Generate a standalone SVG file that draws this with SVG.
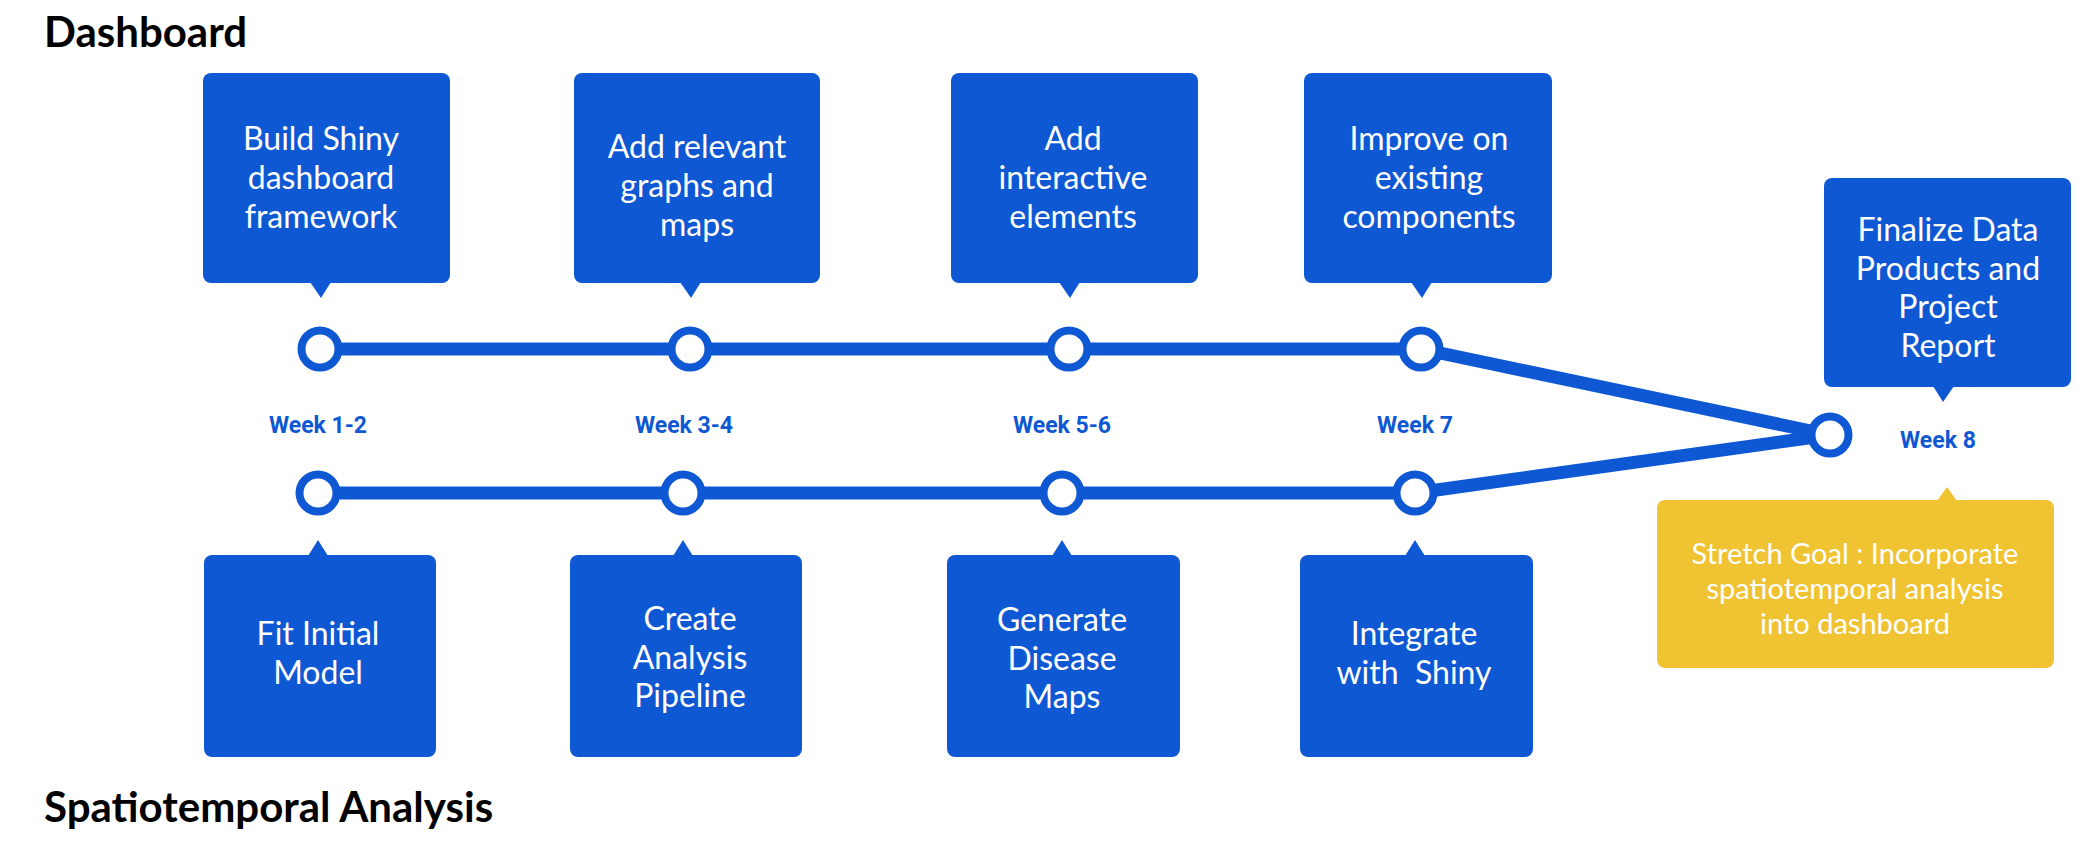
<svg xmlns="http://www.w3.org/2000/svg" width="2093" height="854" viewBox="0 0 2093 854">
<style>
.title{font-family:Lato,"Liberation Sans",sans-serif;font-weight:bold;font-size:42px;fill:#000}
.box{fill:#0f58d3}
.ybox{fill:#f0c332}
.bt{font-family:Lato,"Liberation Sans",sans-serif;font-size:32px;fill:#fff;text-anchor:middle}
.yt{font-family:Lato,"Liberation Sans",sans-serif;font-size:29px;fill:#fff;text-anchor:middle}
.wk{font-family:Roboto,"Liberation Sans",sans-serif;font-weight:bold;font-size:23px;fill:#0f58d3;text-anchor:middle}
.ln{stroke:#0f58d3;stroke-width:13;fill:none;stroke-linecap:round;stroke-linejoin:round}
.dot{fill:#fff;stroke:#0f58d3;stroke-width:8}
</style>
<rect width="2093" height="854" fill="#fff"/>
<text class="title" x="44" y="47">Dashboard</text>
<text class="title" x="44" y="822">Spatiotemporal Analysis</text>

<g id="connectors">
<polyline class="ln" points="320,349 690,349 1069,349 1421,349 1830,435"/>
<polyline class="ln" points="318,493 683,493 1062,493 1415,493 1830,435"/>
</g>

<g id="circles">
<circle class="dot" cx="320" cy="349" r="18.5"/>
<circle class="dot" cx="690" cy="349" r="18.5"/>
<circle class="dot" cx="1069" cy="349" r="18.5"/>
<circle class="dot" cx="1421" cy="349" r="18.5"/>
<circle class="dot" cx="1830" cy="435" r="18.5"/>
<circle class="dot" cx="318" cy="493" r="18.5"/>
<circle class="dot" cx="683" cy="493" r="18.5"/>
<circle class="dot" cx="1062" cy="493" r="18.5"/>
<circle class="dot" cx="1415" cy="493" r="18.5"/>
</g>

<g id="weeks">
<text class="wk" x="318" y="433">Week 1-2</text>
<text class="wk" x="684" y="433">Week 3-4</text>
<text class="wk" x="1062" y="433">Week 5-6</text>
<text class="wk" x="1415" y="433">Week 7</text>
<text class="wk" x="1938" y="448">Week 8</text>
</g>

<g id="t1">
<rect class="box" x="203" y="73" width="247" height="210" rx="8"/>
<polygon class="box" points="310,282 331,282 321,298"/>
<text class="bt"><tspan x="321" y="150">Build Shiny</tspan><tspan x="321" y="189">dashboard</tspan><tspan x="321" y="228">framework</tspan></text>
</g>
<g id="t2">
<rect class="box" x="574" y="73" width="246" height="210" rx="8"/>
<polygon class="box" points="680,282 701,282 691,298"/>
<text class="bt"><tspan x="697" y="158">Add relevant</tspan><tspan x="697" y="197">graphs and</tspan><tspan x="697" y="236">maps</tspan></text>
</g>
<g id="t3">
<rect class="box" x="951" y="73" width="247" height="210" rx="8"/>
<polygon class="box" points="1059,282 1080,282 1070,298"/>
<text class="bt"><tspan x="1073" y="150">Add</tspan><tspan x="1073" y="189">interactive</tspan><tspan x="1073" y="228">elements</tspan></text>
</g>
<g id="t4">
<rect class="box" x="1304" y="73" width="248" height="210" rx="8"/>
<polygon class="box" points="1411,282 1432,282 1422,298"/>
<text class="bt"><tspan x="1429" y="150">Improve on</tspan><tspan x="1429" y="189">existing</tspan><tspan x="1429" y="228">components</tspan></text>
</g>
<g id="t5">
<rect class="box" x="1824" y="178" width="247" height="209" rx="8"/>
<polygon class="box" points="1933,386 1954,386 1943,402"/>
<text class="bt"><tspan x="1948" y="241">Finalize Data</tspan><tspan x="1948" y="280">Products and</tspan><tspan x="1948" y="318">Project</tspan><tspan x="1948" y="357">Report</tspan></text>
</g>

<g id="b1">
<rect class="box" x="204" y="555" width="232" height="202" rx="8"/>
<polygon class="box" points="308,556 328,556 318,540"/>
<text class="bt"><tspan x="318" y="645">Fit Initial</tspan><tspan x="318" y="684">Model</tspan></text>
</g>
<g id="b2">
<rect class="box" x="570" y="555" width="232" height="202" rx="8"/>
<polygon class="box" points="673,556 693,556 683,540"/>
<text class="bt"><tspan x="690" y="630">Create</tspan><tspan x="690" y="669">Analysis</tspan><tspan x="690" y="707">Pipeline</tspan></text>
</g>
<g id="b3">
<rect class="box" x="947" y="555" width="233" height="202" rx="8"/>
<polygon class="box" points="1052,556 1072,556 1062,540"/>
<text class="bt"><tspan x="1062" y="631">Generate</tspan><tspan x="1062" y="670">Disease</tspan><tspan x="1062" y="708">Maps</tspan></text>
</g>
<g id="b4">
<rect class="box" x="1300" y="555" width="233" height="202" rx="8"/>
<polygon class="box" points="1405,556 1425,556 1415,540"/>
<text class="bt"><tspan x="1414" y="645">Integrate</tspan><tspan x="1414" y="684" xml:space="preserve">with  Shiny</tspan></text>
</g>
<g id="y1">
<rect class="ybox" x="1657" y="500" width="397" height="168" rx="8"/>
<polygon class="ybox" points="1937,501 1957,501 1947,487"/>
<text class="yt"><tspan x="1855" y="564">Stretch Goal : Incorporate</tspan><tspan x="1855" y="599">spatiotemporal analysis</tspan><tspan x="1855" y="634">into dashboard</tspan></text>
</g>
</svg>
